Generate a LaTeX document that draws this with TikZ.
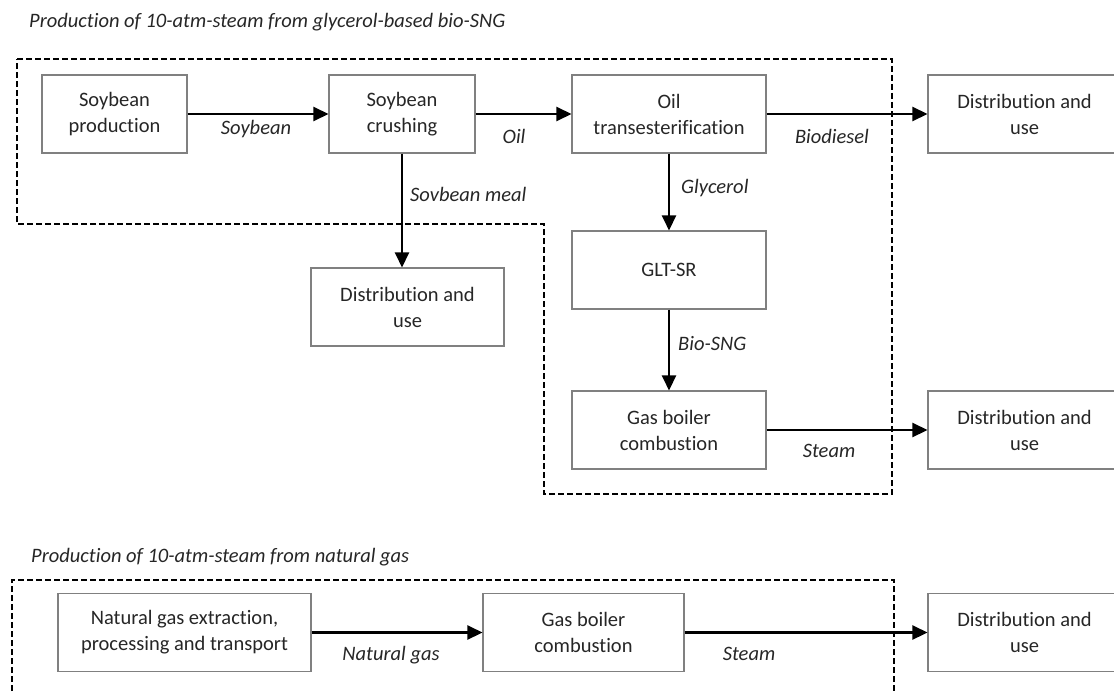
\documentclass[tikz,border=0pt]{standalone}
\usepackage{fontspec}
\setmainfont{Carlito}[Ligatures=CommonOff]
\usetikzlibrary{arrows.meta}

\begin{document}
\begin{tikzpicture}[x=1pt,y=-1pt,
  every node/.style={text=black!85,font=\fontsize{20.5}{26}\selectfont},
  box/.style={draw=black!50,line width=1.1pt,align=center,minimum height=78pt,inner sep=0pt},
  flow/.style={line width=2.5pt,-{Triangle[length=15pt,width=14pt]}},
  lbl/.style={font=\fontsize{20.5}{26}\selectfont\itshape,inner sep=0pt,text height=14pt,text depth=4pt},
  border/.style={line width=1.8pt,dash pattern=on 6pt off 3pt}]
\useasboundingbox (0,0) rectangle (1114,693);
\node[lbl,anchor=west] (title1) at (29,23) {Production of 10-atm-steam from glycerol-based bio-SNG};
\node[lbl,anchor=west] (title2) at (31,557) {Production of 10-atm-steam from natural gas};
\draw[border] (17,59) -- (892,59) -- (892,494) -- (544,494) -- (544,224) -- (17,224) -- cycle;
\draw[border] (12,700) -- (12,580) -- (894,580) -- (894,700);
\node[box,minimum width=145pt] (sprod) at (114.5,114) {Soybean\\production};
\node[box,minimum width=146pt] (scrush) at (402,114) {Soybean\\crushing};
\node[box,minimum width=194pt] (otrans) at (669,114) {Oil\\transesterification};
\node[box,minimum width=193pt] (dist1) at (1024.5,114) {Distribution and\\use};
\node[box,minimum width=193pt] (dist2) at (407.5,307) {Distribution and\\use};
\node[box,minimum width=194pt] (glt) at (669,270) {GLT-SR};
\node[box,minimum width=194pt] (boiler1) at (669,430) {Gas boiler\\combustion};
\node[box,minimum width=193pt] (dist3) at (1024.5,430) {Distribution and\\use};
\node[box,minimum width=253pt] (ngas) at (184.5,632.5) {Natural gas extraction,\\processing and transport};
\node[box,minimum width=201pt] (boiler2) at (583.5,632.5) {Gas boiler\\combustion};
\node[box,minimum width=193pt] (dist4) at (1024.5,632.5) {Distribution and\\use};
\draw[flow] (sprod) -- (scrush);
\draw[flow] (scrush) -- (otrans);
\draw[flow] (otrans) -- (dist1);
\draw[flow] (scrush.south) -- (scrush.south |- dist2.north);
\draw[flow] (otrans) -- (glt);
\draw[flow] (glt) -- (boiler1);
\draw[flow] (boiler1) -- (dist3);
\draw[flow] (ngas) -- (boiler2);
\draw[flow] (boiler2) -- (dist4);
\node[lbl] (lsoy) at (256,129) {Soybean};
\node[lbl] (loil) at (514,138) {Oil};
\node[lbl] (lbiod) at (832,138) {Biodiesel};
\node[lbl,anchor=west] (lmeal) at (410,196) {Sovbean meal};
\node[lbl,anchor=west] (lglyc) at (681,188) {Glycerol};
\node[lbl,anchor=west] (lsng) at (678,345) {Bio-SNG};
\node[lbl] (lsteam1) at (829,452) {Steam};
\node[lbl] (lngas) at (391,655) {Natural gas};
\node[lbl] (lsteam2) at (749,655) {Steam};
\end{tikzpicture}
\end{document}
